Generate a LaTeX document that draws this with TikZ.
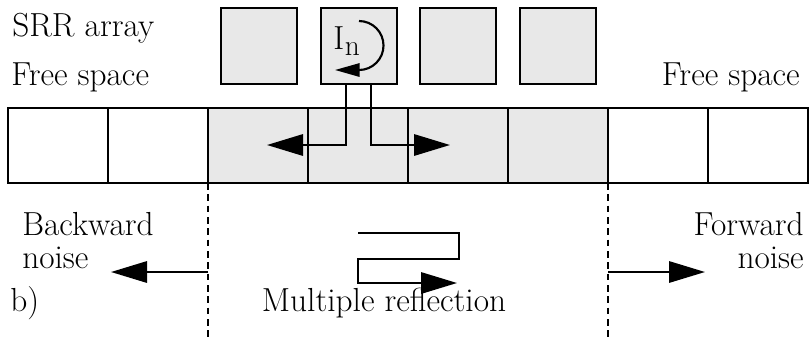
\documentclass[tikz,border=0pt]{standalone}
\usetikzlibrary{arrows.meta}
\definecolor{cellgray}{RGB}{232,232,232}
\tikzset{
  cell/.style={draw, line width=1.8pt, minimum width=75pt, minimum height=56.25pt, inner sep=0pt, outer sep=0pt, anchor=north west},
  graycell/.style={cell, fill=cellgray},
  srr/.style={draw, line width=1.8pt, fill=cellgray, minimum width=57pt, minimum height=57pt, inner sep=0pt, outer sep=0pt, anchor=north west},
  conn/.style={line width=1.6pt},
  bigtip/.style={-{Triangle[length=27pt,width=16pt]}},
  smalltip/.style={-{Triangle[length=18.5pt,width=10pt]}},
  lbl/.style={inner sep=0pt, font=\rmfamily\fontsize{25}{29}\selectfont},
  divider/.style={line width=1.1pt, dash pattern=on 5pt off 3.5pt},
}
\begin{document}
\begin{tikzpicture}[x=0.75pt, y=-0.75pt]
\useasboundingbox (0,0) rectangle (810,337);
% strip cells
\node[cell] (c1) at (8,108) {};
\node[cell] (c2) at (108,108) {};
\node[graycell] (c3) at (208,108) {};
\node[graycell] (c4) at (308,108) {};
\node[graycell] (c5) at (408,108) {};
\node[graycell] (c6) at (508,108) {};
\node[cell] (c7) at (608,108) {};
\node[cell] (c8) at (708,108) {};
% SRR squares
\node[srr] (s1) at (221,8) {};
\node[srr] (s2) at (321,8) {};
\node[srr] (s3) at (420,8) {};
\node[srr] (s4) at (520,8) {};
% current loop
\node[lbl, anchor=base west] (in) at (333,49) {I\kern0.5pt\raisebox{-4.5pt}{\fontsize{22}{24}\selectfont n}};
\draw[conn, smalltip] (359,21) arc[start angle=-90, end angle=90, radius=24.5] -- (335,70);
% coupling arrows
\coordinate (sl) at (346,84);
\coordinate (sr) at (371,84);
\coordinate (al) at (267,145);
\coordinate (ar) at (450,145);
\draw[conn, bigtip] (sl) |- (al);
\draw[conn, bigtip] (sr) |- (ar);
% dividers
\coordinate (dl) at (208,337);
\coordinate (dr) at (608,337);
\draw[divider] (c3.south west) -- (dl);
\draw[divider] (c7.south west) -- (dr);
% noise arrows
\coordinate (bl0) at (208,272);
\coordinate (bl1) at (111,272);
\coordinate (fr0) at (608,272);
\coordinate (fr1) at (705,272);
\draw[conn, bigtip] (bl0) -- (bl1);
\draw[conn, bigtip] (fr0) -- (fr1);
% multiple reflection path
\coordinate (m0) at (358,233);
\coordinate (m1) at (459,233);
\coordinate (m2) at (459,259);
\coordinate (m3) at (358,259);
\coordinate (m4) at (358,283);
\coordinate (m5) at (457,283);
\draw[conn, bigtip] (m0) -- (m1) -- (m2) -- (m3) -- (m4) -- (m5);
% labels
\node[lbl, anchor=base west] (srrlbl) at (12,36) {SRR array};
\node[lbl, anchor=base west] (fsl) at (11,85) {Free space};
\node[lbl, anchor=base east] (fsr) at (800,85) {Free space};
\node[lbl, anchor=base west] (bw) at (22,235) {Backward};
\node[lbl, anchor=base west] (bn) at (22,268) {noise};
\node[lbl, anchor=base east] (fw) at (804,235) {Forward};
\node[lbl, anchor=base east] (fn) at (804,268) {noise};
\node[lbl, anchor=base west] (b) at (10,311) {b)};
\node[lbl, anchor=base] (mr) at (384,311) {Multiple reflection};
\end{tikzpicture}
\end{document}
